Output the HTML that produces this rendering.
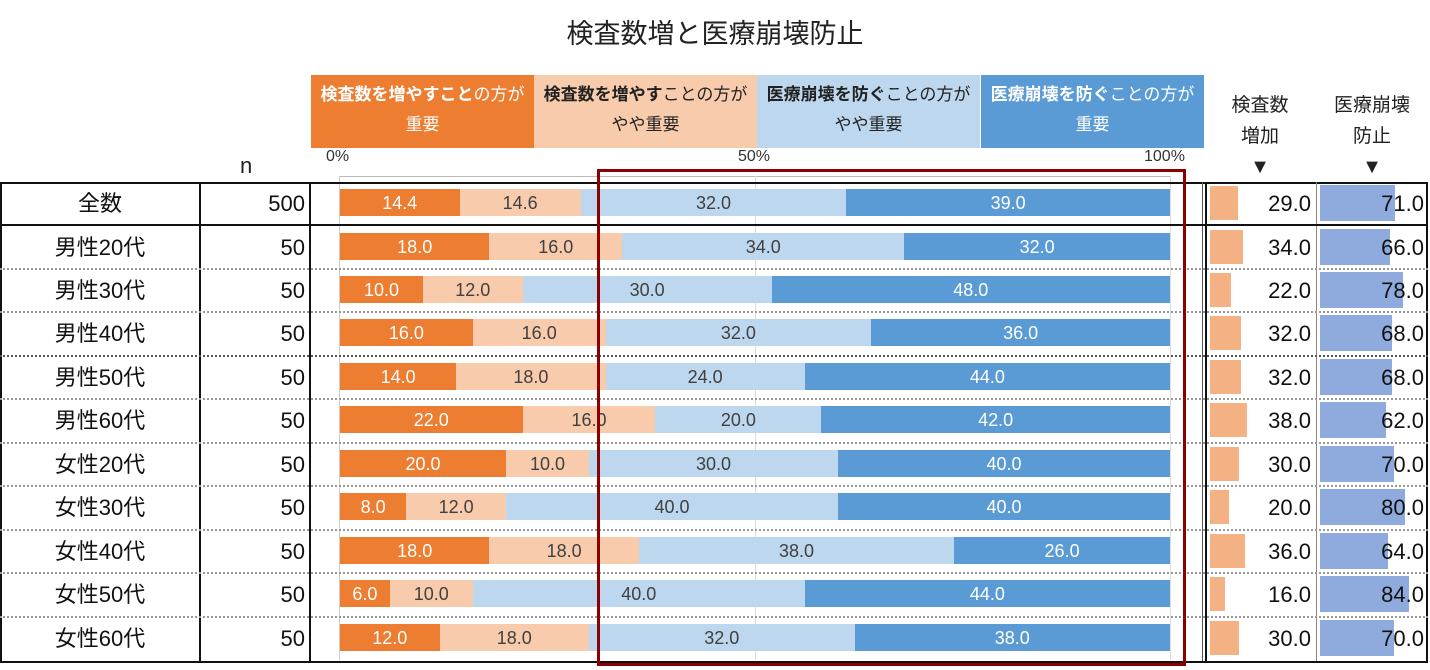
<!DOCTYPE html>
<html><head><meta charset="utf-8">
<style>
body{margin:0;width:1430px;height:670px;background:#fff;position:relative;overflow:hidden;font-family:"Liberation Sans","Noto Sans CJK JP",sans-serif;}
.a{position:absolute}
.title{left:0;width:1430px;top:12px;text-align:center;font-size:27px;color:#222}
.lg{top:75px;height:73px;width:223px;text-align:center;font-size:17px;line-height:30px;padding-top:5px;box-sizing:border-box;white-space:nowrap}
.row{position:absolute;left:0;width:1430px;height:43.45px}
.row .lbl{position:absolute;left:0;width:200px;text-align:center;font-size:22px;line-height:43px;color:#111}
.row .n{position:absolute;left:200px;width:105px;text-align:right;font-size:22px;line-height:43px;color:#111}
.bar{position:absolute;left:340px;width:830px;top:7px;height:27px;display:flex}
.bar div{height:27px;text-align:center;font-size:18px;line-height:28px;overflow:visible;white-space:nowrap}
.s1{background:#ED7D31;color:#fff}.s2{background:#F8CBAD;color:#404040}.s3{background:#BDD7EE;color:#404040}.s4{background:#5B9BD5;color:#fff}
.ob{position:absolute;left:1210px;top:4px;height:34px;background:#F4B183}
.bb{position:absolute;left:1320px;top:3px;height:36px;background:#8FAADC}
.v1{position:absolute;left:1210px;width:101px;text-align:right;font-size:22px;line-height:43px;color:#111}
.v2{position:absolute;left:1320px;width:104px;text-align:right;font-size:22px;line-height:43px;color:#111}
.sep{position:absolute;left:0;width:1428px;height:0;border-top:2px dotted #999}
</style></head><body>
<div class="a title">検査数増と医療崩壊防止</div>
<div class="a lg" style="left:311px;background:#ED7D31;color:#fff"><b>検査数を増やすこと</b>の方が<br>重要</div>
<div class="a lg" style="left:534px;background:#F8CBAD;color:#222"><b>検査数を増やす</b>ことの方が<br>やや重要</div>
<div class="a lg" style="left:757px;background:#BDD7EE;color:#222"><b>医療崩壊を防ぐ</b>ことの方が<br>やや重要</div>
<div class="a lg" style="left:981px;background:#5B9BD5;color:#fff"><b>医療崩壊を防ぐ</b>ことの方が<br>重要</div>
<div class="a" style="left:1220px;width:80px;top:90px;text-align:center;font-size:19px;line-height:31px;color:#222">検査数<br>増加<br><span style="font-size:20px">▼</span></div>
<div class="a" style="left:1322px;width:100px;top:90px;text-align:center;font-size:19px;line-height:31px;color:#222">医療崩壊<br>防止<br><span style="font-size:20px">▼</span></div>
<div class="a" style="left:240px;top:153px;font-size:22px;color:#222">n</div>
<div class="a" style="left:326px;top:148px;font-size:16px;color:#333">0%</div>
<div class="a" style="left:738px;top:148px;font-size:16px;color:#333">50%</div>
<div class="a" style="left:1144px;top:148px;font-size:16px;color:#333">100%</div>
<div class="a" style="left:340px;top:176px;width:830px;height:6px;border-top:1px solid #bbb"></div>
<div class="a" style="left:339px;top:176px;width:1px;height:484px;background:#ccc"></div>
<div class="a" style="left:755px;top:176px;width:1px;height:484px;background:#ddd"></div>
<div class="a" style="left:1170px;top:176px;width:1px;height:484px;background:#ddd"></div>
<div class="a" style="left:0;top:182px;height:477px;border:2px solid #111;box-sizing:content-box;width:1424px"></div>
<div class="a" style="left:199px;top:182px;width:2px;height:479px;background:#111"></div>
<div class="a" style="left:309px;top:182px;width:2px;height:479px;background:#111"></div>
<div class="a" style="left:1202px;top:182px;width:1px;height:479px;background:#555"></div>
<div class="a" style="left:1205px;top:182px;width:2px;height:479px;background:#111"></div>
<div class="a" style="left:1316px;top:182px;width:1px;height:479px;background:#888"></div>
<div class="a" style="left:0;top:224px;width:1428px;height:2px;background:#111"></div>
<div class="sep" style="top:268px"></div><div class="sep" style="top:311px"></div>
<div class="sep" style="top:355px;border-top-color:#555"></div><div class="sep" style="top:398px"></div>
<div class="sep" style="top:442px"></div><div class="sep" style="top:485px"></div><div class="sep" style="top:529px"></div>
<div class="sep" style="top:572px"></div><div class="sep" style="top:616px"></div>

<div class="row" style="top:182px"><div class="lbl">全数</div><div class="n">500</div><div class="bar"><div class="s1" style="width:14.4%">14.4</div><div class="s2" style="width:14.6%">14.6</div><div class="s3" style="width:32%">32.0</div><div class="s4" style="width:39%">39.0</div></div><div class="ob" style="width:28px"></div><div class="bb" style="width:75px"></div><div class="v1">29.0</div><div class="v2">71.0</div></div>
<div class="row" style="top:225.5px"><div class="lbl">男性20代</div><div class="n">50</div><div class="bar"><div class="s1" style="width:18%">18.0</div><div class="s2" style="width:16%">16.0</div><div class="s3" style="width:34%">34.0</div><div class="s4" style="width:32%">32.0</div></div><div class="ob" style="width:33px"></div><div class="bb" style="width:70px"></div><div class="v1">34.0</div><div class="v2">66.0</div></div>
<div class="row" style="top:268.9px"><div class="lbl">男性30代</div><div class="n">50</div><div class="bar"><div class="s1" style="width:10%">10.0</div><div class="s2" style="width:12%">12.0</div><div class="s3" style="width:30%">30.0</div><div class="s4" style="width:48%">48.0</div></div><div class="ob" style="width:21px"></div><div class="bb" style="width:83px"></div><div class="v1">22.0</div><div class="v2">78.0</div></div>
<div class="row" style="top:312.4px"><div class="lbl">男性40代</div><div class="n">50</div><div class="bar"><div class="s1" style="width:16%">16.0</div><div class="s2" style="width:16%">16.0</div><div class="s3" style="width:32%">32.0</div><div class="s4" style="width:36%">36.0</div></div><div class="ob" style="width:31px"></div><div class="bb" style="width:72px"></div><div class="v1">32.0</div><div class="v2">68.0</div></div>
<div class="row" style="top:355.8px"><div class="lbl">男性50代</div><div class="n">50</div><div class="bar"><div class="s1" style="width:14%">14.0</div><div class="s2" style="width:18%">18.0</div><div class="s3" style="width:24%">24.0</div><div class="s4" style="width:44%">44.0</div></div><div class="ob" style="width:31px"></div><div class="bb" style="width:72px"></div><div class="v1">32.0</div><div class="v2">68.0</div></div>
<div class="row" style="top:399.3px"><div class="lbl">男性60代</div><div class="n">50</div><div class="bar"><div class="s1" style="width:22%">22.0</div><div class="s2" style="width:16%">16.0</div><div class="s3" style="width:20%">20.0</div><div class="s4" style="width:42%">42.0</div></div><div class="ob" style="width:37px"></div><div class="bb" style="width:66px"></div><div class="v1">38.0</div><div class="v2">62.0</div></div>
<div class="row" style="top:442.7px"><div class="lbl">女性20代</div><div class="n">50</div><div class="bar"><div class="s1" style="width:20%">20.0</div><div class="s2" style="width:10%">10.0</div><div class="s3" style="width:30%">30.0</div><div class="s4" style="width:40%">40.0</div></div><div class="ob" style="width:29px"></div><div class="bb" style="width:74px"></div><div class="v1">30.0</div><div class="v2">70.0</div></div>
<div class="row" style="top:486.2px"><div class="lbl">女性30代</div><div class="n">50</div><div class="bar"><div class="s1" style="width:8%">8.0</div><div class="s2" style="width:12%">12.0</div><div class="s3" style="width:40%">40.0</div><div class="s4" style="width:40%">40.0</div></div><div class="ob" style="width:19px"></div><div class="bb" style="width:85px"></div><div class="v1">20.0</div><div class="v2">80.0</div></div>
<div class="row" style="top:529.6px"><div class="lbl">女性40代</div><div class="n">50</div><div class="bar"><div class="s1" style="width:18%">18.0</div><div class="s2" style="width:18%">18.0</div><div class="s3" style="width:38%">38.0</div><div class="s4" style="width:26%">26.0</div></div><div class="ob" style="width:35px"></div><div class="bb" style="width:68px"></div><div class="v1">36.0</div><div class="v2">64.0</div></div>
<div class="row" style="top:573.1px"><div class="lbl">女性50代</div><div class="n">50</div><div class="bar"><div class="s1" style="width:6%">6.0</div><div class="s2" style="width:10%">10.0</div><div class="s3" style="width:40%">40.0</div><div class="s4" style="width:44%">44.0</div></div><div class="ob" style="width:15px"></div><div class="bb" style="width:89px"></div><div class="v1">16.0</div><div class="v2">84.0</div></div>
<div class="row" style="top:616.5px"><div class="lbl">女性60代</div><div class="n">50</div><div class="bar"><div class="s1" style="width:12%">12.0</div><div class="s2" style="width:18%">18.0</div><div class="s3" style="width:32%">32.0</div><div class="s4" style="width:38%">38.0</div></div><div class="ob" style="width:29px"></div><div class="bb" style="width:74px"></div><div class="v1">30.0</div><div class="v2">70.0</div></div>

<div class="a" style="left:597px;top:169px;width:583px;height:491px;border:3px solid #8B0000;"></div>
</body></html>
